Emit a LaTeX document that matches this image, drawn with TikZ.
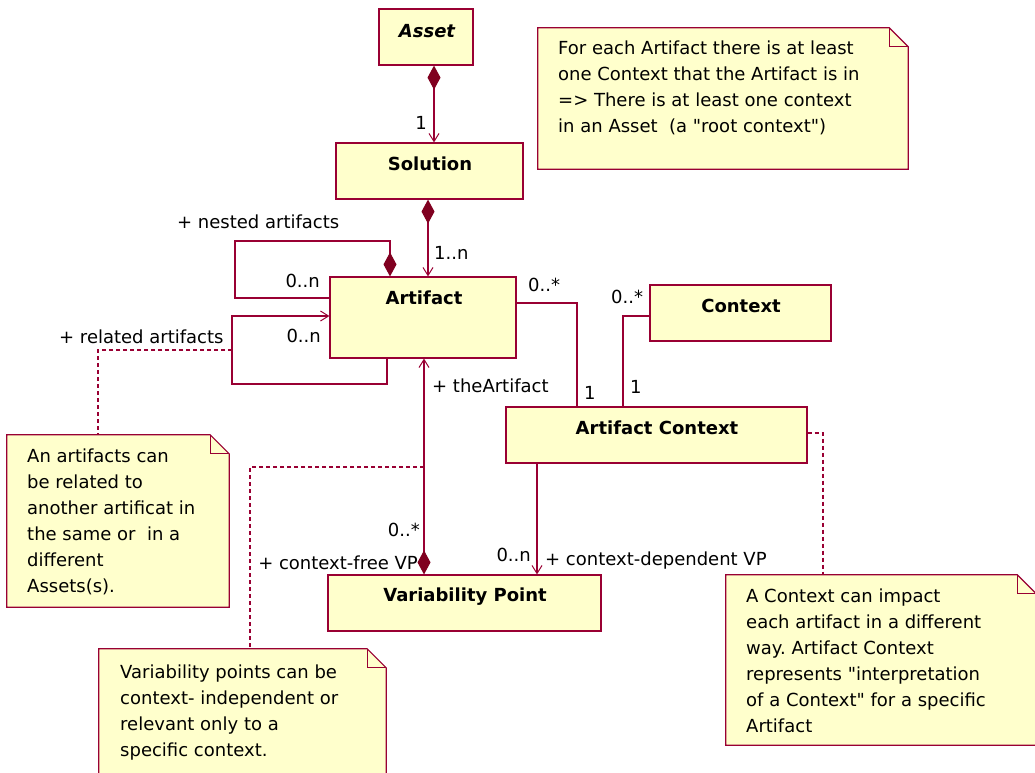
\documentclass[tikz,border=0pt]{standalone}
\usepackage{fontspec}
\setmainfont{DejaVu Sans}
\usetikzlibrary{arrows.meta}
\definecolor{umlred}{RGB}{153,0,51}
\definecolor{umldia}{RGB}{128,0,32}
\definecolor{umlfill}{RGB}{255,255,204}
\frenchspacing
\begin{document}
\begin{tikzpicture}[x=1pt,y=-1pt,
  every node/.style={font=\fontsize{18}{26}\selectfont, inner sep=0pt, text=black},
  cls/.style={draw=umlred, fill=umlfill, line width=1.2pt, rectangle},
  clsname/.style={font=\fontsize{18}{26}\selectfont\bfseries},
  notebg/.style={draw=none, fill=none, rectangle},
  noteline/.style={draw=umlred, line width=1.2pt},
  notetext/.style={anchor=base west, align=left},
  plainline/.style={draw=umlred, line width=1.1pt},
  navline/.style={plainline, -{Straight Barb[length=8pt,width=10pt,line width=1pt]}},
  compline/.style={plainline, {Diamond[length=24pt,width=13pt,fill=umldia,color=umldia]}-{Straight Barb[length=8pt,width=10pt,line width=1pt]}},
  componly/.style={plainline, {Diamond[length=24pt,width=13pt,fill=umldia,color=umldia]}-},
  anchorline/.style={draw=umlred, line width=1.2pt, dash pattern=on 4pt off 3pt}
]
\useasboundingbox (0,0) rectangle (1035,772);

% ---------- notes (outlines) ----------
\node[notebg, minimum width=370pt, minimum height=141pt] (noteA) at (723,98.5) {};
\node[notebg, minimum width=222pt, minimum height=172pt] (noteB) at (118,521) {};
\node[notebg, minimum width=287pt, minimum height=127pt] (noteC) at (242.5,712.5) {};
\node[notebg, minimum width=310pt, minimum height=170pt] (noteD) at (881,660) {};
\foreach \n in {noteA,noteB,noteC,noteD}{
  \draw[noteline, fill=umlfill] (\n.north west) -- ([xshift=-19pt]\n.north east)
     -- ([yshift=-19pt]\n.north east) -- (\n.south east) -- (\n.south west) -- cycle;
  \draw[noteline] ([xshift=-19pt]\n.north east) -- ([xshift=-19pt,yshift=-19pt]\n.north east)
     -- ([yshift=-19pt]\n.north east);
}

% ---------- classes ----------
\node[cls, minimum width=94pt, minimum height=56pt] (asset) at (426,37) {};
\node[cls, minimum width=187pt, minimum height=56pt] (solution) at (429.5,171) {};
\node[cls, minimum width=186pt, minimum height=81pt] (artifact) at (423,317.5) {};
\node[cls, minimum width=181pt, minimum height=56pt] (context) at (740.5,313) {};
\node[cls, minimum width=301pt, minimum height=56pt] (actx) at (656.5,435) {};
\node[cls, minimum width=273pt, minimum height=56pt] (vp) at (464.5,603) {};

\node[clsname, font=\fontsize{18}{26}\selectfont\bfseries\itshape] (assetT) at (427,31) {Asset};
\node[clsname] (solutionT) at (430,164) {Solution};
\node[clsname] (artifactT) at (424,298) {Artifact};
\node[clsname] (contextT) at (741,306) {Context};
\node[clsname] (actxT) at (657,428) {Artifact Context};
\node[clsname] (vpT) at (465,597) {Variability Point};

% ---------- helper coordinates ----------
\coordinate (sx) at (434,0);
\coordinate (s2x) at (428,0);
\coordinate (nl1) at (235,241);
\coordinate (nl2) at (0,298);
\coordinate (rl1) at (232,384);
\coordinate (rl2) at (0,316);
\coordinate (rl3) at (232,350);
\coordinate (nbx) at (98,0);
\coordinate (ay) at (0,303);
\coordinate (ax) at (577,0);
\coordinate (cy) at (0,316);
\coordinate (cx) at (623,0);
\coordinate (dx) at (537,0);
\coordinate (tx) at (424,0);
\coordinate (dy) at (0,467);
\coordinate (ex) at (250,0);
\coordinate (fy) at (0,433);
\coordinate (fx) at (823,0);

% ---------- connectors ----------
\draw[compline] (asset.south -| sx) -- (solution.north -| sx);
\draw[compline] (solution.south -| s2x) -- (artifact.north -| s2x);
\draw[componly] ([xshift=-33pt]artifact.north) |- (nl1) |- (artifact.west |- nl2);
\draw[navline] ([xshift=-36pt]artifact.south) |- (rl1) |- (artifact.west |- rl2);
\draw[plainline] (artifact.east |- ay) -| (actx.north -| ax);
\draw[plainline] (context.west |- cy) -| (actx.north -| cx);
\draw[navline] (actx.south -| dx) -- (vp.north -| dx);
\draw[compline] (vp.north -| tx) -- (artifact.south -| tx);

% note anchors (dashed)
\draw[anchorline] (rl3) -| (noteB.north -| nbx);
\draw[anchorline] (tx |- dy) -| (noteC.north -| ex);
\draw[anchorline] (actx.east |- fy) -| (noteD.north -| fx);

% ---------- connector labels ----------
\node (l1) at (421,123) {1};
\node[anchor=west] (l1n) at (434,253) {1..n};
\node[anchor=west] (lnested) at (177,222) {+ nested artifacts};
\node[anchor=east] (lnested0n) at (320,281) {0..n};
\node[anchor=west] (lrelated) at (59,337) {+ related artifacts};
\node[anchor=east] (lrel0n) at (321,336) {0..n};
\node[anchor=west] (lac0) at (528,285) {0..*};
\node[anchor=west] (lac1) at (584,393) {1};
\node[anchor=west] (lctx0) at (611,297) {0..*};
\node[anchor=west] (lctx1) at (630,387) {1};
\node[anchor=west] (lthe) at (432,386) {+ theArtifact};
\node[anchor=east] (lvp0) at (420,530) {0..*};
\node[anchor=east] (lcfree) at (418,563) {+ context-free VP};
\node[anchor=east] (ldep0n) at (531,555) {0..n};
\node[anchor=west] (ldep) at (545,561) {+ context-dependent VP};

% ---------- note texts (base = last line) ----------
\node[notetext] (noteAtext) at (558,132) {For each Artifact there is at least\\one Context that the Artifact is in\\=> There is at least one context\\in an Asset \ (a \textquotedbl root context\textquotedbl)};
\node[notetext] (noteBtext) at (27,592) {An artifacts can\\be related to\\another artificat in\\the same or \ in a\\different\\Assets(s).};
\node[notetext] (noteCtext) at (120,756) {Variability points can be\\context- independent or\\relevant only to a\\specific context.};
\node[notetext] (noteDtext) at (746,732) {A Context can impact\\each artifact in a different\\way. Artifact Context\\represents \textquotedbl interpretation\\of a Context\textquotedbl\ for a specific\\Artifact};
\end{tikzpicture}
\end{document}
